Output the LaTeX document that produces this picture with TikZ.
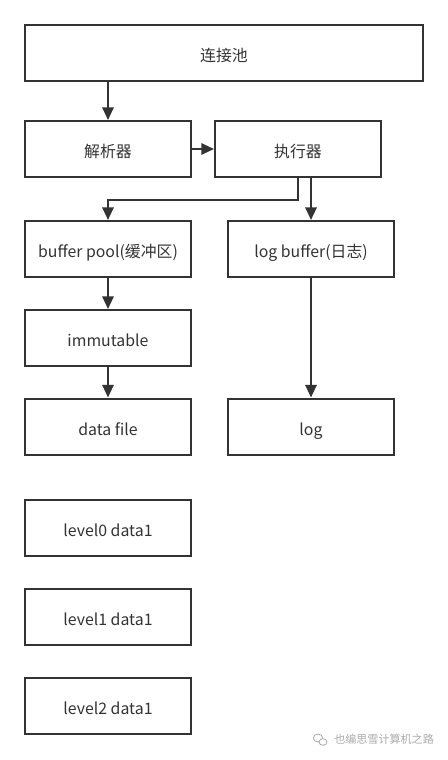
\documentclass[tikz,border=0pt]{standalone}
\usepackage{fontspec}
\setmainfont{Noto Sans CJK SC}
\usetikzlibrary{arrows.meta,shapes.geometric}
\definecolor{ln}{HTML}{333333}
\definecolor{wm}{HTML}{AAAAAA}
\begin{document}
\begin{tikzpicture}[x=0.75pt,y=-0.75pt,
  box/.style={draw=ln,line width=1.5pt,rectangle,minimum height=42pt,inner sep=0pt,
    text height=13.5pt,text depth=0.5pt,
    font=\fontsize{11.9}{14}\selectfont,text=ln},
  sbox/.style={box,minimum width=124.5pt},
  arr/.style={draw=ln,line width=1.5pt,-{Triangle[length=9.5pt,width=8.5pt]}}]
\useasboundingbox (0,0) rectangle (448,760);
\node[box,minimum width=298.5pt] (pool) at (224,53) {连接池};
\node[sbox] (parse) at (108,149) {解析器};
\node[sbox] (exec) at (298,149) {执行器};
\node[sbox] (buf) at (108,249) {buffer pool(缓冲区)};
\node[sbox] (logbuf) at (311,249) {log buffer(日志)};
\node[sbox] (immut) at (108,338) {immutable};
\node[sbox] (dfile) at (108,426.5) {data file};
\node[sbox] (log) at (311,426.5) {log};
\node[sbox] (l0) at (108,527.5) {level0 data1};
\node[sbox] (l1) at (108,616.5) {level1 data1};
\node[sbox] (l2) at (108,705.5) {level2 data1};
\draw[arr] (parse.north |- pool.south) -- (parse.north);
\draw[arr] (parse.east) -- (exec.west);
\draw[arr] (exec.south) -- ++(0,22) -| (buf.north);
\draw[arr] (logbuf.north |- exec.south) -- (logbuf.north);
\draw[arr] (buf.south) -- (immut.north);
\draw[arr] (immut.south) -- (dfile.north);
\draw[arr] (logbuf.south) -- (log.north);
% watermark
\node[draw=wm,line width=0.6pt,ellipse,minimum width=7pt,minimum height=6pt,inner sep=0pt] (wa) at (318,738) {};
\node[draw=wm,line width=0.6pt,ellipse,minimum width=6pt,minimum height=5pt,inner sep=0pt,fill=white] (wb) at (323,742) {};
\node[anchor=west,text=wm,font=\fontsize{8.3}{10}\selectfont,inner sep=0pt] (wt) at (334,739) {也编思雪计算机之路};
\end{tikzpicture}
\end{document}
